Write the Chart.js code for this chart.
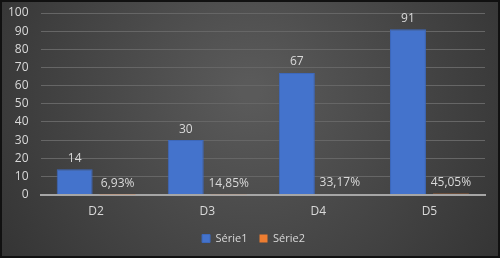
<!DOCTYPE html>
<html><head><meta charset="utf-8">
<script src="https://cdn.jsdelivr.net/npm/chart.js@4/dist/chart.umd.min.js"></script>
<style>html,body{margin:0;padding:0;background:#404040;}#wrap{width:500px;height:258px;position:relative;}</style>
</head><body><div id="wrap"><canvas id="c" width="500" height="258"></canvas></div>
<script>
const categories = ['D2', 'D3', 'D4', 'D5'];
const serie1 = [14, 30, 67, 91];
const serie2 = [0.0693, 0.1485, 0.3317, 0.4505];
const serie1Labels = ['14', '30', '67', '91'];
const serie2Labels = ['6,93%', '14,85%', '33,17%', '45,05%'];
const yTicks = [0, 10, 20, 30, 40, 50, 60, 70, 80, 90, 100];

const FONT = "'Open Sans', 'DejaVu Sans', sans-serif";
const TXT = '#d9d9d9';

const bgPlugin = {
  id: 'bg',
  beforeDraw(chart) {
    const {ctx, width, height} = chart;
    ctx.save();
    const g = ctx.createRadialGradient(width*0.5, height*0.35, 10, width*0.5, height*0.4, width*0.62);
    g.addColorStop(0, '#5a5a5a');
    g.addColorStop(1, '#323232');
    ctx.fillStyle = g;
    ctx.fillRect(0, 0, width, height);
    ctx.strokeStyle = '#111';
    ctx.lineWidth = 2;
    ctx.strokeRect(1, 1, width-2, height-2);
    ctx.restore();
  }
};

const legendShift = {
  id: 'legendShift',
  afterLayout(chart) {
    if (chart.legend) { chart.legend.left += 13; chart.legend.right += 13; }
  }
};

const labelPlugin = {
  id: 'lbl',
  afterDatasetsDraw(chart) {
    const {ctx} = chart;
    ctx.save();
    ctx.font = '12px ' + FONT;
    ctx.fillStyle = TXT;
    ctx.textAlign = 'center';
    ctx.textBaseline = 'bottom';
    const lists = [serie1Labels, serie2Labels];
    chart.data.datasets.forEach((ds, i) => {
      const meta = chart.getDatasetMeta(i);
      meta.data.forEach((el, j) => {
        ctx.fillText(lists[i][j], el.x, el.y - 5);
      });
    });
    ctx.restore();
  }
};

new Chart(document.getElementById('c'), {
  type: 'bar',
  data: {
    labels: categories,
    datasets: [
      {label: 'Série1', data: serie1, backgroundColor: '#4473cc', borderColor: '#3d68bb', borderWidth: 1,
       categoryPercentage: 0.773, barPercentage: 0.837},
      {label: 'Série2', data: serie2, backgroundColor: '#ED7D31', borderWidth: 0,
       categoryPercentage: 0.773, barPercentage: 0.837}
    ]
  },
  options: {
    responsive: false,
    animation: false,
    devicePixelRatio: 1,
    layout: {padding: {top: 13, right: 15, left: -4, bottom: 4}},
    plugins: {
      legend: {
        position: 'bottom',
        labels: {color: TXT, font: {family: FONT, size: 11}, boxWidth: 8, boxHeight: 8, padding: 12}
      },
      tooltip: {enabled: false}
    },
    scales: {
      x: {
        grid: {display: false},
        border: {display: true, color: '#a6a6a6', width: 2},
        ticks: {color: TXT, font: {family: FONT, size: 12}, padding: 2}
      },
      y: {
        min: 0, max: 100,
        afterBuildTicks(scale) { scale.ticks = yTicks.map(v => ({value: v})); },
        afterFit(scale) { scale.paddingTop = 0; scale.paddingBottom = 0; },
        grid: {color: '#666666', lineWidth: 1, drawTicks: false},
        border: {display: false},
        ticks: {color: TXT, font: {family: FONT, size: 12}, padding: 12, autoSkip: false}
      }
    }
  },
  plugins: [bgPlugin, legendShift, labelPlugin]
});
</script></body></html>
